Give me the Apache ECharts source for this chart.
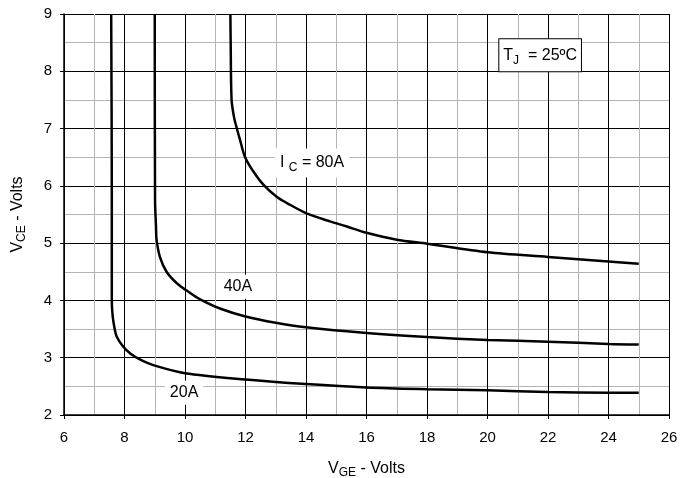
<!DOCTYPE html>
<html>
<head>
<meta charset="utf-8">
<script src="https://cdn.jsdelivr.net/npm/echarts@6/dist/echarts.min.js"></script>
<style>html,body{margin:0;padding:0;background:#fff;}#c{width:680px;height:478px;}</style>
</head>
<body>
<div id="c"></div>
<script>
// VGE (x) and VCE (y) for each collector current
var vge20 = [7.56, 7.58, 7.58, 7.61, 7.67, 7.74, 7.96, 8.2, 8.51, 8.95, 10, 12, 14, 16, 18, 20, 22, 24, 25];
var vce20 = [9, 6, 4.0, 3.72, 3.52, 3.37, 3.19, 3.07, 2.97, 2.87, 2.73, 2.62, 2.54, 2.48, 2.45, 2.43, 2.40, 2.39, 2.39];
var vge40 = [9.0, 9.01, 9.04, 9.06, 9.17, 9.39, 9.73, 10.17, 10.5, 11.2, 12, 13, 14, 16, 18, 20, 22, 24, 25];
var vce40 = [9, 5.75, 5.3, 5.06, 4.76, 4.50, 4.30, 4.13, 4.02, 3.85, 3.72, 3.61, 3.53, 3.43, 3.36, 3.31, 3.28, 3.24, 3.23];
var vge80 = [11.5, 11.51, 11.54, 11.62, 11.71, 11.82, 11.98, 12.26, 12.59, 13.03, 13.47, 14.02, 14.79, 15.35, 16, 17, 18, 20, 22, 24, 25];
var vce80 = [9, 8.5, 7.5, 7.2, 7.01, 6.80, 6.51, 6.25, 6.02, 5.81, 5.67, 5.52, 5.38, 5.29, 5.18, 5.06, 4.99, 4.84, 4.76, 4.68, 4.64];

function pairs(xs, ys) { return xs.map(function (x, i) { return [x, ys[i]]; }); }

var font = 'Liberation Sans, Arial, sans-serif';
var chart = echarts.init(document.getElementById('c'));

function lineSeries(name, xs, ys, mark) {
  return {
    name: name, type: 'line', data: pairs(xs, ys), showSymbol: false,
    smooth: 0.3,
    lineStyle: { color: '#000', width: 2.5 }, z: 5,
    markPoint: mark
  };
}

function labelPoint(coord, text, bordered) {
  return {
    symbol: 'rect', symbolSize: 0, silent: true, animation: false,
    data: [{ coord: coord, value: 0 }],
    label: {
      show: true, position: 'inside', formatter: text,
      color: '#000', fontFamily: font, fontSize: 16,
      backgroundColor: '#fff',
      borderColor: bordered ? '#000' : 'transparent', borderWidth: bordered ? 1 : 0,
      padding: bordered ? [6, 4, 5, 4] : [4, 5, 4, 5],
      rich: {
        n: { fontFamily: font, fontSize: 16, color: '#000' },
        s: { fontFamily: font, fontSize: 12, color: '#000', verticalAlign: 'bottom', padding: [9, 0, 0, 0] }
      }
    }
  };
}

var nameRich = {
  v: { fontFamily: font, fontSize: 16, color: '#000' },
  s: { fontFamily: font, fontSize: 12, color: '#000', verticalAlign: 'bottom', padding: [9, 0, 0, 0] }
};

chart.setOption({
  animation: false,
  backgroundColor: '#fff',
  grid: { left: 64, right: 11, top: 14, bottom: 63, containLabel: false, outerBoundsMode: 'none' },
  xAxis: {
    type: 'value', min: 6, max: 26, interval: 2,
    name: '{v|V}{s|GE}{v| - Volts}', nameLocation: 'middle', nameGap: 43,
    nameTextStyle: { rich: nameRich },
    axisLine: { show: true, onZero: false, lineStyle: { color: '#000', width: 1.5 } },
    axisTick: { show: true, inside: false, length: 4, lineStyle: { color: '#000' } },
    axisLabel: { color: '#000', fontFamily: font, fontSize: 15, margin: 15 },
    splitLine: { show: true, lineStyle: { color: '#000', width: 1 } },
    minorTick: { show: false, splitNumber: 2 },
    minorSplitLine: { show: true, lineStyle: { color: '#b4b4b4', width: 1 } }
  },
  yAxis: {
    type: 'value', min: 2, max: 9, interval: 1,
    name: '{v|V}{s|CE}{v| - Volts}', nameLocation: 'middle', nameGap: 36, nameRotate: 90,
    nameTextStyle: { rich: nameRich },
    axisLine: { show: true, onZero: false, lineStyle: { color: '#000', width: 1.5 } },
    axisTick: { show: true, inside: false, length: 4, lineStyle: { color: '#000' } },
    axisLabel: { color: '#000', fontFamily: font, fontSize: 15, margin: 12 },
    splitLine: { show: true, lineStyle: { color: '#000', width: 1 } },
    minorTick: { show: false, splitNumber: 2 },
    minorSplitLine: { show: true, lineStyle: { color: '#b4b4b4', width: 1 } }
  },
  series: [
    lineSeries('20A', vge20, vce20, labelPoint([9.97, 2.39], '20A', false)),
    lineSeries('40A', vge40, vce40, labelPoint([11.75, 4.24], '40A', false)),
    lineSeries('80A', vge80, vce80, labelPoint([14.2, 6.4], '{n|I }{s|C}{n| = 80A}', false)),
    {
      type: 'line', data: [], markPoint: labelPoint([21.74, 8.28], '{n|T}{s|J}{n|  = 25ºC}', true)
    }
  ]
});
</script>
</body>
</html>
